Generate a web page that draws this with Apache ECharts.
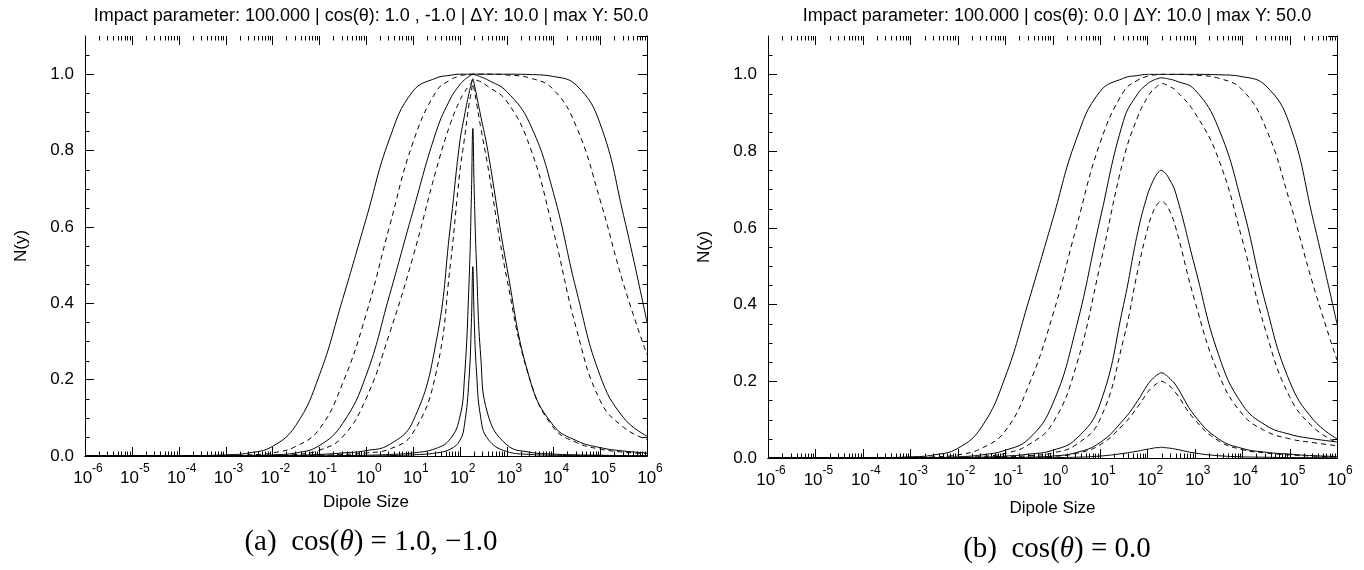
<!DOCTYPE html>
<html>
<head>
<meta charset="utf-8">
<script src="https://cdn.jsdelivr.net/npm/echarts@6/dist/echarts.min.js"></script>
<style>
  html, body { margin: 0; padding: 0; background: #fff; }
  #chart { width: 1364px; height: 570px; }
</style>
</head>
<body>
<div id="chart"></div>
<script>
// dipole sizes shared by every curve (log spaced, denser near the peak)
var sizes = [1e-6, 1e-4, 1e-3, 3.16e-3, 1e-2, 3.16e-2, 0.1, 0.316, 1, 3.16, 10, 31.6, 63.1, 100,
	126, 158, 178, 191, 204, 229, 282, 398, 1000, 3162, 1e4, 3.16e4, 1e5, 3.16e5, 1e6];

// panel (a)  cos(theta) = 1.0, -1.0
var aSolid1 = [0, 0, 0.003, 0.008, 0.025, 0.08, 0.21, 0.41, 0.62, 0.83, 0.955, 0.99, 0.997, 1,
	1, 1, 1, 1, 1, 1, 1, 1, 1, 0.999, 0.994, 0.97, 0.87, 0.63, 0.35];
var aDash1 = [0, 0, 0.001, 0.003, 0.008, 0.025, 0.07, 0.19, 0.37, 0.6, 0.82, 0.955, 0.985, 0.995,
	0.998, 0.999, 1, 1, 1, 1, 1, 1, 0.998, 0.99, 0.96, 0.86, 0.67, 0.45, 0.265];
var aSolid2 = [0, 0, 0, 0.001, 0.003, 0.008, 0.027, 0.085, 0.21, 0.42, 0.64, 0.85, 0.935, 0.972,
	0.985, 0.994, 0.998, 1, 0.999, 0.997, 0.993, 0.985, 0.955, 0.87, 0.69, 0.43, 0.21, 0.1, 0.052];
var aDash2 = [0, 0, 0, 0, 0.001, 0.004, 0.015, 0.05, 0.15, 0.32, 0.52, 0.75, 0.87, 0.93,
	0.952, 0.97, 0.978, 0.985, 0.985, 0.984, 0.98, 0.968, 0.93, 0.81, 0.59, 0.33, 0.145, 0.075, 0.043];
var aSolid3 = [0, 0, 0, 0, 0.001, 0.002, 0.004, 0.008, 0.014, 0.03, 0.09, 0.3, 0.6, 0.82,
	0.89, 0.95, 0.975, 0.988, 0.975, 0.945, 0.89, 0.8, 0.5, 0.2, 0.08, 0.04, 0.022, 0.013, 0.008];
var aDash3 = [0, 0, 0, 0, 0, 0.001, 0.002, 0.004, 0.008, 0.018, 0.06, 0.22, 0.5, 0.74,
	0.83, 0.92, 0.955, 0.975, 0.96, 0.925, 0.86, 0.76, 0.47, 0.2, 0.075, 0.035, 0.018, 0.01, 0.006];
var aSolid4 = [0, 0, 0, 0, 0, 0, 0, 0.001, 0.002, 0.004, 0.008, 0.02, 0.045, 0.1,
	0.2, 0.45, 0.68, 0.858, 0.7, 0.5, 0.26, 0.11, 0.03, 0.01, 0.005, 0.003, 0.002, 0.001, 0.001];
var aSolid5 = [0, 0, 0, 0, 0, 0, 0, 0, 0, 0.001, 0.003, 0.008, 0.018, 0.04,
	0.08, 0.2, 0.35, 0.496, 0.36, 0.22, 0.1, 0.045, 0.012, 0.004, 0.002, 0.001, 0.001, 0, 0];

// panel (b)  cos(theta) = 0.0
var bSolid1 = [0, 0, 0.003, 0.008, 0.025, 0.08, 0.21, 0.41, 0.62, 0.83, 0.955, 0.99, 0.997, 1,
	1, 1, 1, 1, 1, 1, 1, 1, 1, 0.999, 0.994, 0.97, 0.87, 0.62, 0.35];
var bDash1 = [0, 0, 0.001, 0.003, 0.008, 0.025, 0.07, 0.19, 0.37, 0.6, 0.82, 0.955, 0.985, 0.995,
	0.998, 0.999, 1, 1, 1, 1, 1, 1, 0.998, 0.99, 0.96, 0.86, 0.67, 0.45, 0.255];
var bSolid2 = [0, 0, 0, 0.001, 0.003, 0.008, 0.02, 0.05, 0.14, 0.34, 0.62, 0.88, 0.95, 0.975,
	0.983, 0.988, 0.99, 0.991, 0.991, 0.99, 0.988, 0.983, 0.96, 0.86, 0.66, 0.4, 0.2, 0.1, 0.05];
var bDash2 = [0, 0, 0, 0, 0.001, 0.004, 0.012, 0.035, 0.09, 0.24, 0.5, 0.78, 0.89, 0.94,
	0.957, 0.968, 0.973, 0.976, 0.976, 0.975, 0.97, 0.958, 0.9, 0.78, 0.57, 0.33, 0.16, 0.08, 0.04];
var bSolid3 = [0, 0, 0, 0, 0.001, 0.002, 0.005, 0.01, 0.02, 0.05, 0.14, 0.4, 0.59, 0.685,
	0.717, 0.74, 0.747, 0.75, 0.749, 0.745, 0.73, 0.69, 0.5, 0.27, 0.14, 0.085, 0.062, 0.05, 0.042];
var bDash3 = [0, 0, 0, 0, 0, 0.001, 0.003, 0.006, 0.013, 0.035, 0.1, 0.31, 0.49, 0.595,
	0.635, 0.66, 0.667, 0.67, 0.669, 0.665, 0.65, 0.6, 0.41, 0.22, 0.115, 0.07, 0.05, 0.04, 0.032];
var bSolid4 = [0, 0, 0, 0, 0, 0, 0.001, 0.002, 0.005, 0.014, 0.04, 0.1, 0.15, 0.19,
	0.205, 0.216, 0.22, 0.222, 0.222, 0.219, 0.21, 0.19, 0.11, 0.05, 0.025, 0.015, 0.01, 0.006, 0.004];
var bDash4 = [0, 0, 0, 0, 0, 0, 0.001, 0.002, 0.004, 0.012, 0.034, 0.088, 0.134, 0.17,
	0.184, 0.194, 0.198, 0.2, 0.2, 0.197, 0.19, 0.17, 0.1, 0.045, 0.022, 0.013, 0.008, 0.005, 0.003];
var bSolid5 = [0, 0, 0, 0, 0, 0, 0, 0, 0.001, 0.002, 0.005, 0.012, 0.018, 0.023,
	0.025, 0.027, 0.027, 0.028, 0.028, 0.027, 0.026, 0.023, 0.013, 0.006, 0.003, 0.002, 0.001, 0.001, 0];

// axis ticks
var decades = [1e-6, 1e-5, 1e-4, 1e-3, 1e-2, 1e-1, 1, 10, 100, 1e3, 1e4, 1e5, 1e6];
var yTicks = [0, 0.2, 0.4, 0.6, 0.8, 1.0];
var yMax = 1.1;
var xMin = 1e-6, xMax = 1e6;

var titles = [
	'Impact parameter: 100.000 | cos(\u03b8): 1.0 , -1.0 | \u0394Y: 10.0 | max Y: 50.0',
	'Impact parameter: 100.000 | cos(\u03b8): 0.0 | \u0394Y: 10.0 | max Y: 50.0'
];

var FONT = 'Liberation Sans';
var SERIF = 'Liberation Serif';

var chart = {

	minorX: function() { // 2..9 inside every decade
		var list = [];
		for (var e = -6; e < 6; e++) {
			for (var m = 2; m <= 9; m++) {
				list.push([m * Math.pow(10, e), 0]);
			}
		}
		return list;
	},

	minorY: function() {
		var list = [];
		for (var i = 1; i <= 21; i++) {
			if (i % 4 !== 0) list.push([xMin, i * 0.05]);
		}
		return list;
	},

	line: function(vals, dashed, idx) {
		return {
			type: 'line',
			xAxisIndex: idx * 2,
			yAxisIndex: idx * 2,
			data: sizes.map(function(s, i) { return [s, vals[i]]; }),
			showSymbol: false,
			smooth: 0.45,
			silent: true,
			lineStyle: { color: '#000', width: 1, type: dashed ? [5, 4] : 'solid' }
		};
	},

	tickLine: function(x1, y1, x2, y2) {
		return { type: 'line', shape: { x1: x1, y1: y1, x2: x2, y2: y2 }, style: { stroke: '#000', lineWidth: 1 } };
	},

	tickSeries: function(idx) {
		var base = { type: 'custom', xAxisIndex: idx * 2, yAxisIndex: idx * 2, silent: true, clip: false };
		// decade ticks and their 10^n labels
		var major = Object.assign({}, base, {
			data: decades.map(function(d) { return [d, 0]; }),
			renderItem: function(params, api) {
				var v = api.value(0);
				var b = api.coord([v, 0]);
				var t = api.coord([v, yMax]);
				var x = Math.round(b[0]) + 0.5;
				var e = Math.round(Math.log(v) / Math.LN10);
				return { type: 'group', children: [
					chart.tickLine(x, b[1], x, b[1] - 9),
					chart.tickLine(x, t[1], x, t[1] + 9),
					{ type: 'text', style: {
						text: '{b|10}{e|' + e + '}', x: b[0] + 3, y: b[1] + 7,
						align: 'center', verticalAlign: 'top', textAlign: 'center', textVerticalAlign: 'top',
						rich: {
							b: { fontFamily: FONT, fontSize: 17, fill: '#000', lineHeight: 24, verticalAlign: 'bottom' },
							e: { fontFamily: FONT, fontSize: 12, fill: '#000', lineHeight: 13, verticalAlign: 'top' }
						}
					} }
				] };
			}
		});
		var xs = Object.assign({}, base, {
			data: chart.minorX(),
			renderItem: function(params, api) {
				var v = api.value(0);
				var b = api.coord([v, 0]);
				var t = api.coord([v, yMax]);
				var x = Math.round(b[0]) + 0.5;
				return { type: 'group', children: [
					chart.tickLine(x, b[1], x, b[1] - 4.5),
					chart.tickLine(x, t[1], x, t[1] + 4.5)
				] };
			}
		});
		var ys = Object.assign({}, base, {
			data: chart.minorY(),
			renderItem: function(params, api) {
				var v = api.value(1);
				var l = api.coord([xMin, v]);
				var r = api.coord([xMax, v]);
				var y = Math.round(l[1]) + 0.5;
				return { type: 'group', children: [
					chart.tickLine(l[0], y, l[0] + 4.5, y),
					chart.tickLine(r[0], y, r[0] - 4.5, y)
				] };
			}
		});
		return [major, xs, ys];
	},

	xAxes: function(gridIndex, nameGap) {
		var common = {
			type: 'log', gridIndex: gridIndex, min: xMin, max: xMax, logBase: 10,
			splitLine: { show: false },
			axisLine: { lineStyle: { color: '#000', width: 1 } },
			axisTick: { show: false },
			axisLabel: { show: false }
		};
		var bottom = Object.assign({}, common, {
			position: 'bottom',
			name: 'Dipole Size', nameLocation: 'middle', nameGap: nameGap,
			nameTextStyle: { fontFamily: FONT, fontSize: 17, color: '#000' }
		});
		var top = Object.assign({}, common, { position: 'top' });
		return [bottom, top];
	},

	yAxes: function(gridIndex) {
		var common = {
			type: 'value', gridIndex: gridIndex, min: 0, max: yMax, interval: 0.2,
			splitLine: { show: false },
			axisLine: { show: true, lineStyle: { color: '#000', width: 1 } },
			axisTick: { inside: true, length: 9, lineStyle: { color: '#000' } }
		};
		var left = Object.assign({}, common, {
			position: 'left',
			name: 'N(y)', nameLocation: 'middle', nameGap: 55,
			nameTextStyle: { fontFamily: FONT, fontSize: 17, color: '#000' },
			axisLabel: {
				margin: 11, fontFamily: FONT, fontSize: 17, color: '#000', showMaxLabel: false,
				formatter: function(v) { return yTicks.indexOf(+v.toFixed(1)) >= 0 && v <= 1.0001 ? v.toFixed(1) : ''; }
			}
		});
		var right = Object.assign({}, common, { position: 'right', axisLabel: { show: false } });
		return [left, right];
	},

	caption: function(text, left, top) {
		return { text: text, left: left, top: top, textAlign: 'center',
			textStyle: { fontFamily: SERIF, fontSize: 29, fontWeight: 'normal', color: '#000',
				rich: { i: { fontFamily: SERIF, fontSize: 29, fontStyle: 'italic', color: '#000' } } } };
	},

	build: function() {
		var myChart = echarts.init(document.getElementById('chart'), null, { renderer: 'canvas' });
		var series = [
			chart.line(aSolid1, false, 0), chart.line(aDash1, true, 0),
			chart.line(aSolid2, false, 0), chart.line(aDash2, true, 0),
			chart.line(aSolid3, false, 0), chart.line(aDash3, true, 0),
			chart.line(aSolid4, false, 0), chart.line(aSolid5, false, 0),
			chart.line(bSolid1, false, 1), chart.line(bDash1, true, 1),
			chart.line(bSolid2, false, 1), chart.line(bDash2, true, 1),
			chart.line(bSolid3, false, 1), chart.line(bDash3, true, 1),
			chart.line(bSolid4, false, 1), chart.line(bDash4, true, 1),
			chart.line(bSolid5, false, 1)
		].concat(chart.tickSeries(0), chart.tickSeries(1));

		var option = {
			animation: false,
			backgroundColor: '#fff',
			title: [
				{ text: titles[0], left: 366, top: 2, textAlign: 'center',
					textStyle: { fontFamily: FONT, fontSize: 18, fontWeight: 'normal', color: '#000' } },
				{ text: titles[1], left: 1052, top: 2, textAlign: 'center',
					textStyle: { fontFamily: FONT, fontSize: 18, fontWeight: 'normal', color: '#000' } },
				chart.caption('(a)  cos({i|\u03b8}) = 1.0, \u22121.0', 366, 523),
				chart.caption('(b)  cos({i|\u03b8}) = 0.0', 1052, 530)
			],
			grid: [
				{ left: 85, top: 36, width: 562, height: 420 },
				{ left: 768, top: 36, width: 569, height: 422 }
			],
			xAxis: chart.xAxes(0, 38).concat(chart.xAxes(1, 42)),
			yAxis: chart.yAxes(0).concat(chart.yAxes(1)),
			series: series
		};
		myChart.setOption(option);
	}
};

chart.build();
</script>
</body>
</html>
